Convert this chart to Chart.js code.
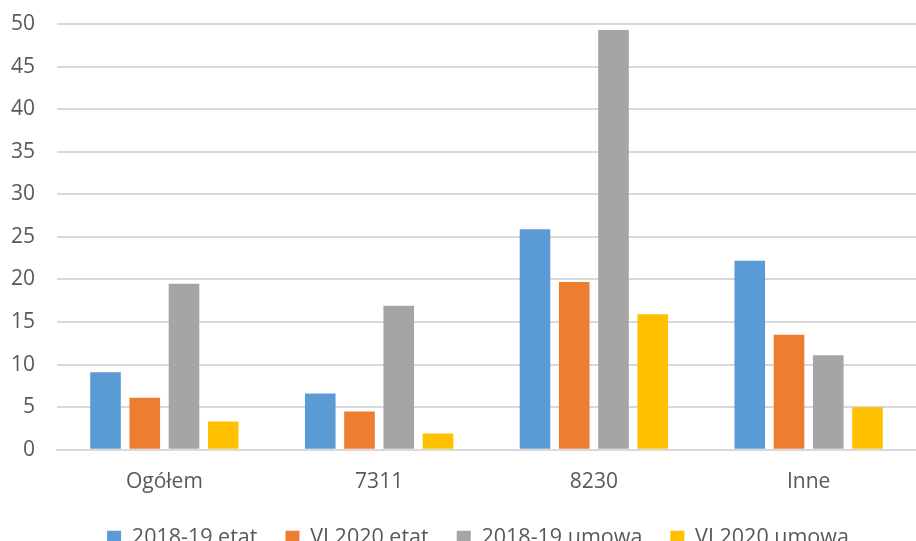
<!DOCTYPE html>
<html><head><meta charset="utf-8">
<script src="https://cdn.jsdelivr.net/npm/chart.js@4"></script>
<style>html,body{margin:0;padding:0;background:#fff;overflow:hidden}canvas{display:block}</style>
</head><body>
<canvas id="c" width="916" height="541"></canvas>
<script>
const categories = ["Ogółem", "7311", "8230", "Inne"];
const seriesNames = ["2018-19 etat", "VI 2020 etat", "2018-19 umowa", "VI 2020 umowa"];
const etat2018 = [9.1, 6.6, 25.9, 22.2];
const etat2020 = [6.1, 4.5, 19.7, 13.5];
const umowa2018 = [19.5, 16.9, 49.3, 11.1];
const umowa2020 = [3.3, 1.9, 15.9, 5.0];
const yTicks = [0, 5, 10, 15, 20, 25, 30, 35, 40, 45, 50];
const colors = ["#5B9BD5", "#ED7D31", "#A5A5A5", "#FFC000"];
const values = [etat2018, etat2020, umowa2018, umowa2020];

const font = "'Open Sans', sans-serif";
const legendShift = {
  id: 'legendShift',
  afterLayout(chart) {
    if (chart.legend) { chart.legend.left += 15; chart.legend.right += 15; }
  }
};
new Chart(document.getElementById('c'), {
  type: 'bar',
  data: {
    labels: categories,
    datasets: values.map((v, i) => ({
      label: seriesNames[i], data: v, backgroundColor: colors[i],
      categoryPercentage: 0.731, barPercentage: 0.78, borderWidth: 0
    }))
  },
  plugins: [legendShift],
  options: {
    responsive: false, animation: false,
    layout: { padding: { top: 24, right: -10, left: 0, bottom: -17.6 } },
    plugins: {
      tooltip: { enabled: false },
      legend: {
        position: 'bottom',
        labels: { color: '#595959', font: { family: font, size: 21.5 }, boxWidth: 14, boxHeight: 14, padding: 28 }
      }
    },
    scales: {
      x: {
        grid: { display: false, drawTicks: false },
        border: { color: '#d9d9d9', width: 2 },
        ticks: { color: '#595959', font: { family: font, size: 21 }, padding: 20 },
        afterFit: s => { s.height = 49.4; }
      },
      y: {
        min: 0, max: 50,
        afterBuildTicks: s => { s.ticks = yTicks.map(v => ({ value: v })); },
        grid: { color: '#d9d9d9', lineWidth: 2, drawTicks: true, tickLength: 22, tickColor: 'rgba(0,0,0,0)' },
        border: { display: false },
        ticks: { color: '#595959', font: { family: font, size: 21 }, padding: 0 },
        afterFit: s => { s.width = 57; }
      }
    }
  }
});
</script>
</body></html>
